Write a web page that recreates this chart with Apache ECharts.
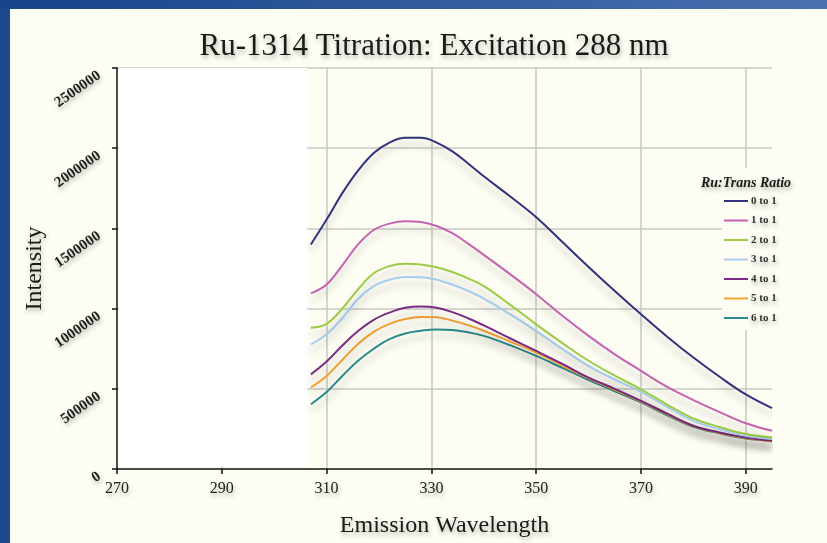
<!DOCTYPE html>
<html>
<head>
<meta charset="utf-8">
<script src="https://cdn.jsdelivr.net/npm/echarts@6/dist/echarts.min.js"></script>
<style>
html,body{margin:0;padding:0;width:827px;height:543px;overflow:hidden;}
#chart{width:827px;height:543px;}
</style>
</head>
<body>
<div id="chart"></div>
<script>
const wavelengths = [307,310,313,316,319,322,325,328,331,334,337,340,345,350,355,360,365,370,375,380,385,390,395];
const seriesNames = ['0 to 1','1 to 1','2 to 1','3 to 1','4 to 1','5 to 1','6 to 1'];
const ratio0 = [1400000,1555000,1720000,1860000,1970000,2035000,2065000,2065000,2035000,1980000,1905000,1825000,1700000,1570000,1415000,1260000,1110000,965000,825000,695000,575000,465000,380000];
const ratio1 = [1095000,1150000,1270000,1400000,1490000,1530000,1545000,1540000,1515000,1470000,1405000,1335000,1215000,1090000,955000,830000,715000,612000,512000,430000,355000,285000,238000];
const ratio2 = [880000,905000,1000000,1120000,1220000,1265000,1280000,1275000,1258000,1228000,1188000,1140000,1025000,902000,785000,675000,582000,497000,402000,315000,262000,218000,197000];
const ratio3 = [777000,840000,940000,1060000,1140000,1180000,1197000,1195000,1180000,1150000,1110000,1062000,965000,860000,748000,642000,558000,481000,387000,300000,248000,207000,187000];
const ratio4 = [590000,670000,770000,860000,930000,975000,1005000,1013000,1005000,978000,940000,895000,815000,736000,655000,570000,500000,425000,345000,270000,228000,197000,176000];
const ratio5 = [508000,580000,680000,780000,855000,905000,935000,948000,946000,925000,897000,862000,795000,726000,645000,565000,494000,421000,340000,266000,225000,193000,172000];
const ratio6 = [404000,480000,580000,675000,750000,810000,845000,862000,870000,867000,852000,830000,772000,705000,630000,555000,485000,415000,335000,263000,222000,190000,176000];
const allRatios = [ratio0,ratio1,ratio2,ratio3,ratio4,ratio5,ratio6];
const colors = ['#30337e','#c562b2','#9dcb45','#a9d1f1','#7a2b86','#f6a136','#2b8b8b'];
const xTicks = [270,290,310,330,350,370,390];
const yTicks = [0,500000,1000000,1500000,2000000,2500000];

const serif = "'Liberation Serif','DejaVu Serif',serif";
const shadowText = {textShadowColor:'rgba(0,0,0,0.28)',textShadowBlur:4,textShadowOffsetY:3,textShadowOffsetX:1};

const chart = echarts.init(document.getElementById('chart'));

const series = allRatios.map((vals,i)=>{
  const s = {
    name: seriesNames[i],
    type: 'line',
    data: wavelengths.map((w,j)=>[w, vals[j]]),
    smooth: 0.4,
    showSymbol: false,
    color: colors[i],
    lineStyle: {width: 2, color: colors[i], shadowColor:'rgba(0,0,0,0.22)', shadowBlur:7, shadowOffsetY:7},
    z: 10 - i
  };
  if (i === 0) {
    s.markArea = {
      silent: true,
      itemStyle: {color: '#ffffff'},
      data: [[{xAxis: 270.4, yAxis: 15000}, {xAxis: 306.3, yAxis: yTicks[yTicks.length-1]}]]
    };
  }
  return s;
});

chart.setOption({
  animation: false,
  backgroundColor: 'transparent',
  graphic: [
    {type:'rect', z:-100, shape:{x:0,y:0,width:827,height:543},
     style:{fill:new echarts.graphic.LinearGradient(0,0,1,0,[{offset:0,color:'#15448a'},{offset:1,color:'#4b70b1'}])}},
    {type:'rect', z:-99, shape:{x:0,y:9,width:10,height:534}, style:{fill:'#1a4a8c'}},
    {type:'rect', z:-98, shape:{x:10,y:9,width:817,height:534}, style:{fill:'#fdfdf3'}}
  ],
  title: [
    {text:'Ru-1314 Titration: Excitation 288 nm', left:429, top:26, textAlign:'center',
     textStyle:{fontFamily:serif, fontSize:31, fontWeight:'normal', color:'#1a1a1a', ...shadowText}},
    {text:'Ru:Trans Ratio', left:696, top:171,
     textStyle:{fontFamily:serif, fontSize:14, fontStyle:'italic', fontWeight:'bold', color:'#1a1a1a', ...shadowText}}
  ],
  legend: {
    orient:'vertical', left:722, top:168,
    padding:[27,4,6,2],
    backgroundColor:'#fdfdf3',
    itemWidth:24, itemHeight:2, itemGap:7.5,
    icon:'rect',
    data: seriesNames,
    textStyle:{fontFamily:serif, fontSize:11, fontWeight:'bold', color:'#333', lineHeight:12, padding:[0,0,0,-2], ...shadowText}
  },
  grid: {left:117, right:55, top:68, bottom:73, containLabel:false},
  xAxis: {
    type:'value', min:270, max:395, interval:20,
    name:'Emission Wavelength', nameLocation:'middle', nameGap:45, nameMoveOverlap:false,
    nameTextStyle:{fontFamily:serif, fontSize:24, color:'#1a1a1a', ...shadowText},
    axisLine:{show:true, onZero:false, lineStyle:{color:'#111', width:1.5}},
    axisTick:{show:true, length:5, lineStyle:{color:'#111', width:1.5}},
    axisLabel:{fontFamily:serif, fontSize:16, color:'#222', margin:12, showMaxLabel:false,
      formatter:(v)=> xTicks.includes(v) ? String(v) : '', ...shadowText},
    splitLine:{show:true, showMinLine:false, showMaxLine:false, lineStyle:{color:'#c9c9c5', width:1.5}}
  },
  yAxis: {
    type:'value', min:0, max:2500000, interval:500000,
    name:'Intensity', nameLocation:'middle', nameGap:70, nameRotate:90, nameMoveOverlap:false,
    nameTextStyle:{fontFamily:serif, fontSize:24, color:'#1a1a1a', ...shadowText},
    axisLine:{show:true, lineStyle:{color:'#111', width:1.5}},
    axisTick:{show:true, length:5, lineStyle:{color:'#111', width:1.5}},
    axisLabel:{fontFamily:serif, fontSize:15, fontWeight:'bold', color:'#222', rotate:35, margin:22, verticalAlign:'top',
      formatter:(v)=> yTicks.includes(v) ? String(v) : '', ...shadowText},
    splitLine:{show:true, showMinLine:false, lineStyle:{color:'#c9c9c5', width:1.5}}
  },
  series: series
});
</script>
</body>
</html>
